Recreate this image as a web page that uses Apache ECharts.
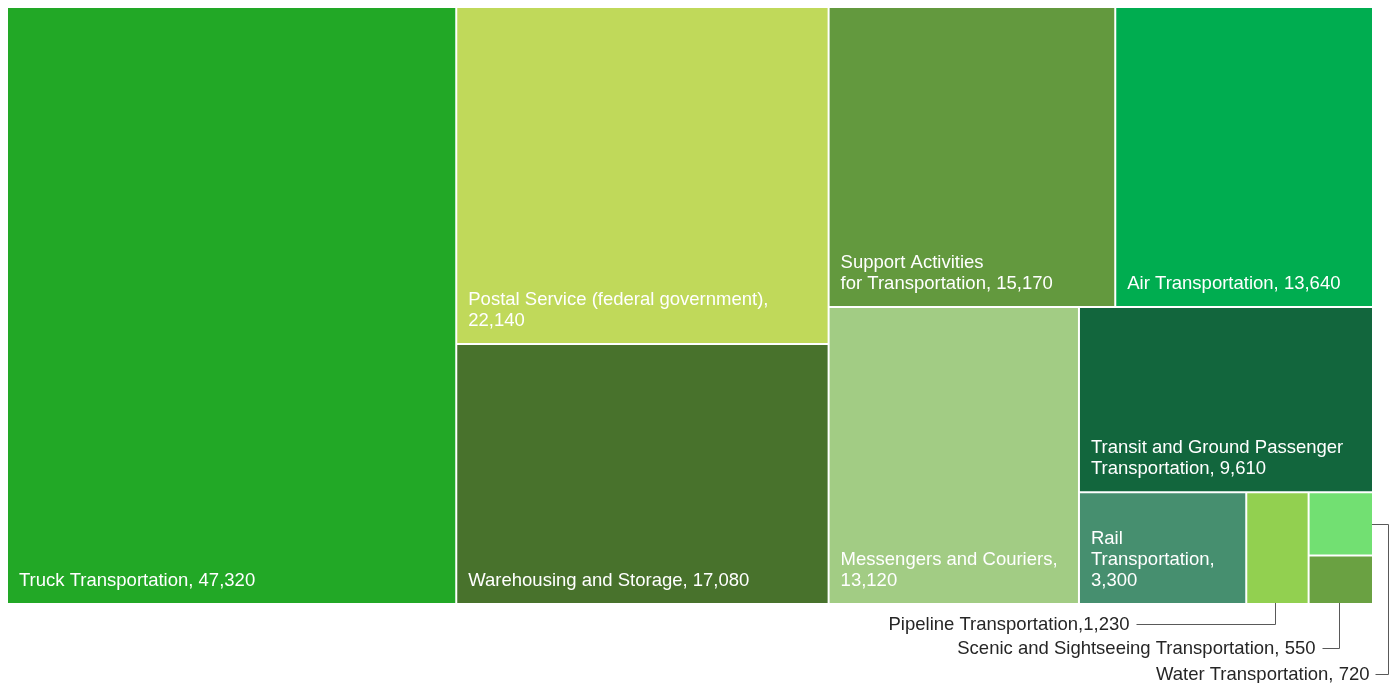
<!DOCTYPE html>
<html><head><meta charset="utf-8">
<script src="https://cdn.jsdelivr.net/npm/echarts@6/dist/echarts.min.js"></script>
<style>html,body{margin:0;padding:0;background:#fff}#c{width:1390px;height:683px}</style>
</head><body><div id="c"></div>
<script>
const names = ['Truck Transportation','Postal Service (federal government)','Warehousing and Storage','Support Activities for Transportation','Air Transportation','Messengers and Couriers','Transit and Ground Passenger Transportation','Rail Transportation','Pipeline Transportation','Water Transportation','Scenic and Sightseeing Transportation'];
const values = [47320, 22140, 17080, 15170, 13640, 13120, 9610, 3300, 1230, 720, 550];
const colors = ['#22a826','#c0d95a','#48722c','#63993e','#00ad50','#a2cc84','#12663d','#468f6f','#92d050','#72e072','#6aa142'];
const labels = ['Truck Transportation, 47,320','Postal Service (federal government),\n22,140','Warehousing and Storage, 17,080','Support Activities\nfor Transportation, 15,170','Air Transportation, 13,640','Messengers and Couriers,\n13,120','Transit and Ground Passenger\nTransportation, 9,610','Rail\nTransportation,\n3,300','','',''];
const calloutNames = ['Pipeline Transportation','Scenic and Sightseeing Transportation','Water Transportation'];
const calloutTexts = ['Pipeline Transportation,1,230','Scenic and Sightseeing Transportation, 550','Water Transportation, 720'];

const chart = echarts.init(document.getElementById('c'), null, {renderer:'canvas'});
const SL = 8, ST = 8, SW = 1364, SH = 595;
const FONT = '"Liberation Sans", Arial, sans-serif';
const data = names.map((n, i) => ({
  name: n, value: values[i],
  itemStyle: {color: colors[i]},
  label: labels[i] ? {formatter: labels[i]} : {show: false}
}));
chart.setOption({
  animation: false,
  series: [{
    type: 'treemap', left: SL, top: ST, width: SW, height: SH,
    squareRatio: 1,
    roam: false, nodeClick: false, breadcrumb: {show: false},
    emphasis: {disabled: true},
    levels: [{itemStyle: {borderWidth: 0, gapWidth: 2, borderColor: '#fff'}}],
    itemStyle: {borderWidth: 0, gapWidth: 2, borderColor: '#fff'},
    label: {show: true, position: 'insideBottomLeft', distance: 10, color: '#fff', fontSize: 18.5,
      fontFamily: FONT, lineHeight: 21, overflow: 'none', padding: [0,0,2,1]},
    data: data
  }]
});

let done = false;
chart.on('finished', function () {
  if (done) return; done = true;
  const d = chart.getModel().getSeriesByIndex(0).getData();
  const box = {};
  for (let i = 0; i < d.count(); i++) {
    const l = d.getItemLayout(i);
    if (l) box[d.getName(i)] = {x: SL + l.x, y: ST + l.y, w: l.width, h: l.height};
  }
  const g = [];
  const txt = (x, y, s) => ({type: 'text', x: x, y: y, silent: true, z: 100,
    style: {text: s, fill: '#262626', font: '18.5px ' + FONT, textAlign: 'right', textVerticalAlign: 'middle'}});
  const pl = (pts) => ({type: 'polyline', silent: true, z: 100, shape: {points: pts}, style: {fill: null, stroke: '#595959', lineWidth: 1}});
  let b = box[calloutNames[0]];
  if (b) {
    const cx = Math.round(b.x + b.w / 2) - 1.5, by = b.y + b.h, ly = Math.round(by + 21) + 0.5;
    g.push(pl([[cx, by], [cx, ly], [cx - 139, ly]]));
    g.push(txt(cx - 146, ly, calloutTexts[0]));
  }
  b = box[calloutNames[1]];
  if (b) {
    const cx = Math.round(b.x + b.w / 2) - 1.5, by = b.y + b.h, ly = Math.round(by + 45) + 0.5;
    g.push(pl([[cx, by], [cx, ly], [cx - 17, ly]]));
    g.push(txt(cx - 24, ly, calloutTexts[1]));
  }
  b = box[calloutNames[2]];
  if (b) {
    const cy = Math.round(b.y + b.h / 2) + 0.5, rx = b.x + b.w, vx = Math.round(rx + 16) + 0.5;
    const ly = Math.round(ST + SH + 71) + 0.5;
    g.push(pl([[rx, cy], [vx, cy], [vx, ly], [vx - 13, ly]]));
    g.push(txt(vx - 19, ly, calloutTexts[2]));
  }
  chart.setOption({graphic: g});
});
</script>
</body></html>
